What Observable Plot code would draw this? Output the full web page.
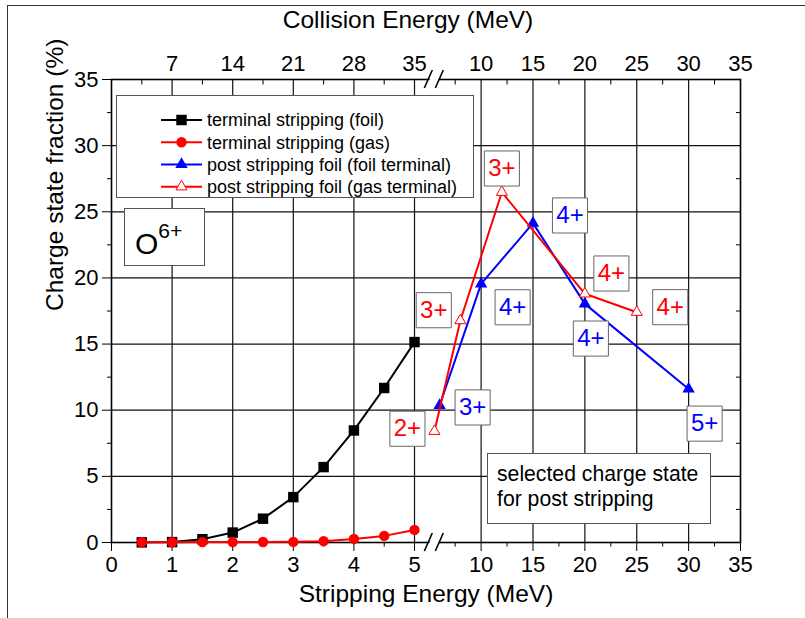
<!DOCTYPE html>
<html><head><meta charset="utf-8">
<script src="https://cdn.jsdelivr.net/npm/d3@7"></script>
<script src="https://cdn.jsdelivr.net/npm/@observablehq/plot@0.6"></script>
<style>
body{margin:0;background:#fff;}
#chart{position:relative;width:805px;height:618px;}
</style>
</head><body><div id="chart"></div>
<script>
// ---------- data ----------
const terminalEnergy = [0.5, 1, 1.5, 2, 2.5, 3, 3.5, 4, 4.5, 5];
const terminalFoil   = [0.01, 0.03, 0.25, 0.75, 1.8, 3.43, 5.7, 8.47, 11.68, 15.15];
const terminalGas    = [0.02, 0.02, 0.03, 0.03, 0.04, 0.05, 0.1, 0.27, 0.5, 0.95];

const postFoilEnergy   = [6, 10, 15, 20, 30];
const postFoilFraction = [10.36, 19.55, 24.14, 18.04, 11.61];
const postFoilCharge   = ["3+", "4+", "4+", "4+", "5+"];

const postGasEnergy   = [5.5, 8, 12, 20, 25];
const postGasFraction = [8.41, 16.78, 26.48, 18.8, 17.41];
const postGasCharge   = ["2+", "3+", "3+", "4+", "4+"];

const bottomTicksLeft  = [0, 1, 2, 3, 4, 5];
const bottomTicksRight = [10, 15, 20, 25, 30, 35];
const topTicksLeft     = [1, 2, 3, 4, 5];        // stripping-energy positions
const topLabelsLeft    = [7, 14, 21, 28, 35];    // collision energy labels
const topTicksRight    = [10, 15, 20, 25, 30, 35];
const minorLeft        = [0.5, 1.5, 2.5, 3.5, 4.5];
const minorRight       = [7.5, 12.5, 17.5, 22.5, 27.5, 32.5];
const yTicks           = [0, 5, 10, 15, 20, 25, 30, 35];
const yMinor           = [2.5, 7.5, 12.5, 17.5, 22.5, 27.5, 32.5];

const legendLabels = ["terminal stripping (foil)", "terminal stripping (gas)",
  "post stripping foil (foil terminal)", "post stripping foil (gas terminal)"];

// ---------- layout (label offsets in px) ----------
const foilLabelOffset = [[33, 2], [31.5, 23.4], [37, -7.7], [6, 34.7], [16, 34.7]];
const gasLabelOffset  = [[-27, -2.5], [-26.6, -10.3], [0, -23.7], [26.5, -20.3], [33.5, -5]];

// broken axis: left segment 0..5 as is, right segment compressed
const K = 0.1712, RIGHT10 = 6.099;
const uL = e => e;
const uR = e => RIGHT10 + (e - 10) * K;
const U_MAX = uR(35);

const terminal = terminalEnergy.map((e, i) => ({u: uL(e), foil: terminalFoil[i], gas: terminalGas[i]}));
const postFoil = postFoilEnergy.map((e, i) => ({u: uR(e), y: postFoilFraction[i], label: postFoilCharge[i]}));
const postGas  = postGasEnergy.map((e, i) => ({u: uR(e), y: postGasFraction[i], label: postGasCharge[i]}));

const bottomMajor = [...bottomTicksLeft.map(uL), ...bottomTicksRight.map(uR)];
const bottomLabel = new Map([...bottomTicksLeft.map(t => [uL(t), String(t)]), ...bottomTicksRight.map(t => [uR(t), String(t)])]);
const topMajor = [...topTicksLeft.map(uL), ...topTicksRight.map(uR)];
const topLabel = new Map([...topTicksLeft.map((t, i) => [uL(t), String(topLabelsLeft[i])]), ...topTicksRight.map(t => [uR(t), String(t)])]);
const minorU = [...minorLeft.map(uL), ...minorRight.map(uR)];
const gridU = [1, 2, 3, 4, 5].map(uL).concat([10, 15, 20, 25, 30].map(uR));

const RED = "#ff0000", BLUE = "#0000ff";
const FONT = "'Liberation Sans', Arial, sans-serif";

function labelMarks(data, offsets, color) {
  const marks = [];
  data.forEach((d, i) => {
    const [dx, dy] = offsets[i];
    marks.push(Plot.dot([d], {x: "u", y: "y", dx, dy, symbol: "square", r: 19.8, fill: "white", stroke: "#666", strokeWidth: 1}));
    marks.push(Plot.text([d], {x: "u", y: "y", dx, dy, text: "label", fill: color, fontSize: 24, lineAnchor: "middle"}));
  });
  return marks;
}

const plot = Plot.plot({
  width: 805, height: 618,
  marginLeft: 111, marginRight: 65, marginTop: 79, marginBottom: 76,
  style: {fontFamily: FONT, fontSize: "22px", background: "white", color: "black", overflow: "visible"},
  x: {domain: [0, U_MAX], label: null},
  y: {domain: [0, 35], label: null},
  marks: [
    Plot.ruleX(gridU, {stroke: "#111", strokeWidth: 1.2}),
    Plot.ruleY([5, 10, 15, 20, 25, 30], {stroke: "#111", strokeWidth: 1.2}),
    Plot.frame({stroke: "black", strokeWidth: 1.6}),
    Plot.axisY(yTicks, {anchor: "left", tickSize: 9, tickPadding: 4, fontSize: 22, label: null}),
    Plot.axisY(yMinor, {anchor: "left", tickSize: 4, tickFormat: () => "", label: null}),
    Plot.axisY(yMinor, {anchor: "right", tickSize: 5, dx: -5, tickFormat: () => "", label: null}),
    Plot.axisX(bottomMajor, {anchor: "bottom", tickSize: 9, tickPadding: 5, fontSize: 22, tickFormat: u => bottomLabel.get(u), label: null}),
    Plot.axisX(minorU, {anchor: "bottom", tickSize: 4.5, tickFormat: () => "", label: null}),
    Plot.axisX(topMajor, {anchor: "top", tickSize: 0, tickPadding: 9, fontSize: 22, tickFormat: u => topLabel.get(u), label: null}),
    Plot.axisX(minorU, {anchor: "top", tickSize: 4.5, dy: 4.5, tickFormat: () => "", label: null}),
    Plot.text(["Stripping Energy (MeV)"], {frameAnchor: "bottom", dy: 52, fontSize: 24.5, lineAnchor: "middle"}),
    Plot.text(["Collision Energy (MeV)"], {frameAnchor: "top", dx: -18, dy: -59, fontSize: 24.5, lineAnchor: "middle"}),
    Plot.text(["Charge state fraction (%)"], {frameAnchor: "left", dx: -56, rotate: -90, fontSize: 24.5, lineAnchor: "middle"}),
    // terminal stripping (foil)
    Plot.line(terminal, {x: "u", y: "foil", stroke: "black", strokeWidth: 2}),
    Plot.dot(terminal, {x: "u", y: "foil", symbol: "square", r: 5.9, fill: "black"}),
    // terminal stripping (gas)
    Plot.line(terminal, {x: "u", y: "gas", stroke: RED, strokeWidth: 2}),
    Plot.dot(terminal, {x: "u", y: "gas", symbol: "circle", r: 5.2, fill: RED}),
    // post stripping foil (foil terminal)
    Plot.line(postFoil, {x: "u", y: "y", stroke: BLUE, strokeWidth: 2}),
    Plot.dot(postFoil, {x: "u", y: "y", symbol: "triangle", r: 4.6, fill: BLUE}),
    // post stripping foil (gas terminal)
    Plot.line(postGas, {x: "u", y: "y", stroke: RED, strokeWidth: 2}),
    Plot.dot(postGas, {x: "u", y: "y", symbol: "triangle", r: 4.1, fill: "white", stroke: RED, strokeWidth: 1}),
    ...labelMarks(postFoil, foilLabelOffset, BLUE),
    ...labelMarks(postGas, gasLabelOffset, RED)
  ]
});

document.getElementById("chart").appendChild(plot);

// ---------- annotations ----------
const svg = d3.select(plot);
const xs = plot.scale("x"), ys = plot.scale("y");
const g = svg.append("g").attr("font-family", FONT).attr("text-anchor", "start");

// outer figure border (top + left)
g.append("line").attr("x1", 7).attr("x2", 805).attr("y1", 5.5).attr("y2", 5.5).attr("stroke", "#333").attr("stroke-width", 1);
g.append("line").attr("x1", 7.5).attr("x2", 7.5).attr("y1", 5).attr("y2", 618).attr("stroke", "#333").attr("stroke-width", 1);

// axis break marks
const xb = (xs.apply(uL(5)) + xs.apply(uR(10))) / 2 - 23;
[ys.apply(0), ys.apply(35)].forEach(yy => {
  g.append("polygon")
    .attr("points", `${xb + 2},${yy + 8} ${xb + 9},${yy - 8} ${xb + 18},${yy - 8} ${xb + 11},${yy + 8}`)
    .attr("fill", "white");
  [0, 11].forEach(o => g.append("line")
    .attr("x1", xb + o).attr("y1", yy + 9).attr("x2", xb + o + 8).attr("y2", yy - 9)
    .attr("stroke", "black").attr("stroke-width", 1.6));
});

// legend
const lg = g.append("g");
lg.append("rect").attr("x", 116.5).attr("y", 95.5).attr("width", 357).attr("height", 102)
  .attr("fill", "white").attr("stroke", "#555").attr("stroke-width", 1);
const legendRows = [120, 142.3, 164.5, 186.7];
const legendColor = ["black", RED, BLUE, RED];
const legendSym = [d3.symbolSquare, d3.symbolCircle, d3.symbolTriangle, d3.symbolTriangle];
const legendSize = [5.9, 5.2, 4.6, 4.1];
legendLabels.forEach((t, i) => {
  const y = legendRows[i];
  lg.append("line").attr("x1", 161).attr("x2", 202).attr("y1", y).attr("y2", y)
    .attr("stroke", legendColor[i]).attr("stroke-width", 2);
  const open = i === 3;
  lg.append("path").attr("transform", `translate(181.5,${y})`)
    .attr("d", d3.symbol(legendSym[i], Math.PI * legendSize[i] ** 2)())
    .attr("fill", open ? "white" : legendColor[i])
    .attr("stroke", open ? RED : "none").attr("stroke-width", 1);
  lg.append("text").attr("x", 207).attr("y", y).attr("dy", "0.36em")
    .attr("font-size", 18).attr("fill", "black").text(t);
});

// O6+ box
const og = g.append("g");
og.append("rect").attr("x", 124.5).attr("y", 208.5).attr("width", 80).attr("height", 57)
  .attr("fill", "white").attr("stroke", "#555").attr("stroke-width", 1);
const ot = og.append("text").attr("x", 135).attr("y", 254).attr("font-size", 30).attr("fill", "black");
ot.append("tspan").text("O");
ot.append("tspan").attr("dy", -16).attr("font-size", 21).text("6+");

// note box
const ng = g.append("g");
ng.append("rect").attr("x", 487.5).attr("y", 453.5).attr("width", 223).attr("height", 70)
  .attr("fill", "white").attr("stroke", "#555").attr("stroke-width", 1);
ng.append("text").attr("x", 497).attr("y", 481).attr("font-size", 21.2).attr("fill", "black").text("selected charge state");
ng.append("text").attr("x", 497).attr("y", 506).attr("font-size", 21.2).attr("fill", "black").text("for post stripping");
</script>
</body></html>
